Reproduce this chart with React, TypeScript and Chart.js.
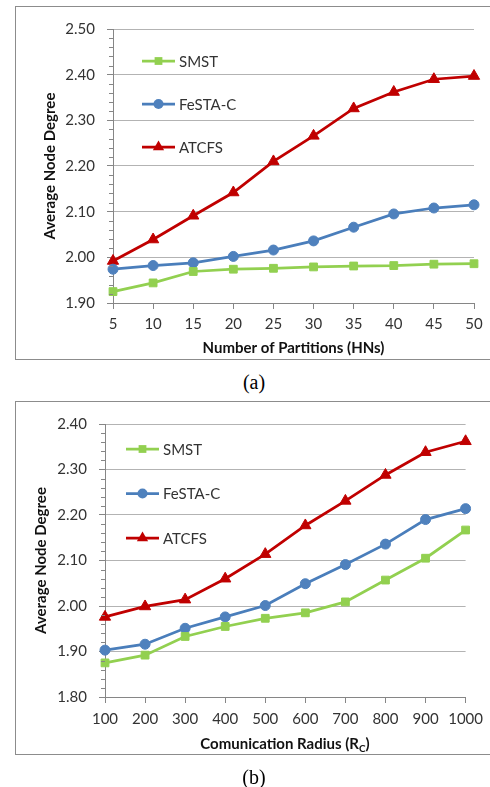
import React, { useEffect, useRef } from "react";
import { Chart, registerables } from "chart.js";

Chart.register(...registerables);

// ---- Chart (a) data ----
const partitions = ["5", "10", "15", "20", "25", "30", "35", "40", "45", "50"];
const smstA = [1.925, 1.944, 1.969, 1.974, 1.976, 1.979, 1.981, 1.982, 1.985, 1.986];
const festaA = [1.974, 1.982, 1.988, 2.002, 2.016, 2.036, 2.066, 2.095, 2.108, 2.115];
const atcfsA = [1.992, 2.039, 2.091, 2.142, 2.21, 2.266, 2.326, 2.362, 2.39, 2.397];

// ---- Chart (b) data ----
const radii = ["100", "200", "300", "400", "500", "600", "700", "800", "900", "1000"];
const smstB = [1.875, 1.892, 1.933, 1.955, 1.973, 1.985, 2.009, 2.057, 2.105, 2.167];
const festaB = [1.903, 1.916, 1.951, 1.976, 2.001, 2.049, 2.091, 2.136, 2.19, 2.214];
const atcfsB = [1.976, 1.999, 2.014, 2.06, 2.114, 2.177, 2.231, 2.288, 2.338, 2.362];

const seriesNames = ["SMST", "FeSTA-C", "ATCFS"];
const yTitle = "Average Node Degree";
const xTitleA = "Number of Partitions (HNs)";
const xTitleB = "Comunication Radius (R";
const xTitleBSub = "C";
const yRangeA = [1.9, 2.5];
const yRangeB = [1.8, 2.4];

const GREEN = "#92D050";
const BLUE = "#4A7EBB";
const RED = "#C00000";
const AXIS = "#868686";
const GRID = "#B3B3B3";
const FONT = "Lato, 'Open Sans', sans-serif";

function drawMarker(ctx: CanvasRenderingContext2D, style: string, x: number, y: number, r: number) {
  ctx.beginPath();
  if (style === "rect") {
    const s = Math.SQRT1_2 * r;
    ctx.rect(x - s, y - s, 2 * s, 2 * s);
  } else if (style === "triangle") {
    let rad = 0;
    ctx.moveTo(x + Math.sin(rad) * r, y - Math.cos(rad) * r);
    rad += (2 * Math.PI) / 3;
    ctx.lineTo(x + Math.sin(rad) * r, y - Math.cos(rad) * r);
    rad += (2 * Math.PI) / 3;
    ctx.lineTo(x + Math.sin(rad) * r, y - Math.cos(rad) * r);
    ctx.closePath();
  } else {
    ctx.arc(x, y, r, 0, Math.PI * 2);
  }
  ctx.fill();
}

const minorTicks = {
  id: "minorTicks",
  afterDraw(chart: any) {
    const y = chart.scales.y;
    const ctx = chart.ctx as CanvasRenderingContext2D;
    const x0 = chart.chartArea.left;
    ctx.save();
    ctx.strokeStyle = AXIS;
    ctx.lineWidth = 1;
    const n = Math.round((y.max - y.min) / 0.02);
    for (let i = 0; i <= n; i++) {
      if (i % 5 === 0) continue;
      const p = Math.round(y.getPixelForValue(y.min + i * 0.02)) + 0.5;
      ctx.beginPath();
      ctx.moveTo(x0 - 4, p);
      ctx.lineTo(x0, p);
      ctx.stroke();
    }
    ctx.restore();
  },
};

const insideLegend = {
  id: "insideLegend",
  afterDraw(chart: any, _args: any, opts: any) {
    const ctx = chart.ctx as CanvasRenderingContext2D;
    const ca = chart.chartArea;
    ctx.save();
    chart.data.datasets.forEach((ds: any, i: number) => {
      const y = ca.top + opts.dy + i * opts.step;
      const x1 = ca.left + opts.dx;
      const x2 = x1 + opts.lineLen;
      ctx.strokeStyle = ds.borderColor;
      ctx.lineWidth = ds.borderWidth;
      ctx.beginPath();
      ctx.moveTo(x1, y);
      ctx.lineTo(x2, y);
      ctx.stroke();
      ctx.fillStyle = ds.pointBackgroundColor;
      drawMarker(ctx, ds.pointStyle, (x1 + x2) / 2, y, ds.pointRadius);
      ctx.fillStyle = "#333";
      ctx.font = `15px ${FONT}`;
      ctx.textBaseline = "middle";
      ctx.textAlign = "left";
      ctx.fillText(ds.label, x2 + opts.textGap, y + 1);
    });
    ctx.restore();
  },
};

function makeDatasets(s: number[], f: number[], a: number[]) {
  const base = { borderWidth: 2.75, pointBorderWidth: 1, tension: 0 };
  return [
    { ...base, label: seriesNames[0], data: s, borderColor: GREEN, backgroundColor: GREEN, pointBackgroundColor: GREEN, pointBorderColor: GREEN, pointStyle: "rect", pointRadius: 5.5 },
    { ...base, label: seriesNames[1], data: f, borderColor: BLUE, backgroundColor: "#4F81BD", pointBackgroundColor: "#4F81BD", pointBorderColor: "#4F81BD", pointStyle: "circle", pointRadius: 5 },
    { ...base, label: seriesNames[2], data: a, borderColor: RED, backgroundColor: RED, pointBackgroundColor: RED, pointBorderColor: RED, pointStyle: "triangle", pointRadius: 6.5 },
  ];
}

function makeConfig(
  labels: string[],
  datasets: any[],
  yRange: number[],
  xTitle: string | null,
  pad: { left: number; right: number; top: number; bottom: number },
  yWidth: number,
  xHeight: number,
  xPad: number,
  legend: any
): any {
  return {
    type: "line",
    data: { labels, datasets },
    plugins: [minorTicks, insideLegend],
    options: {
      animation: false,
      responsive: false,
      devicePixelRatio: 1,
      layout: { padding: pad },
      plugins: {
        legend: { display: false },
        tooltip: { enabled: false },
        insideLegend: legend,
      },
      scales: {
        x: {
          type: "category",
          offset: false,
          grid: { display: true, drawOnChartArea: false, drawTicks: true, tickLength: 6, color: AXIS, tickColor: AXIS },
          border: { display: true, color: AXIS, width: 1 },
          ticks: { font: { family: FONT, size: 15 }, color: "#333", padding: xPad, maxRotation: 0, autoSkip: false },
          title: { display: xTitle !== null, text: xTitle || "", font: { family: FONT, size: 15, weight: "bold" }, color: "#111", padding: 0 },
          afterFit: (s: any) => { s.height = xHeight; },
        },
        y: {
          min: yRange[0],
          max: yRange[1],
          ticks: {
            stepSize: 0.1,
            font: { family: FONT, size: 15 },
            color: "#333",
            padding: 12,
            callback: (v: any) => Number(v).toFixed(2),
          },
          grid: { color: GRID, tickColor: AXIS, tickLength: 6, lineWidth: 1 },
          border: { display: true, color: AXIS, width: 1 },
          title: { display: true, text: yTitle, font: { family: FONT, size: 15, weight: "bold" }, color: "#111", padding: 0 },
          afterFit: (s: any) => { s.width = yWidth; },
        },
      },
    },
  };
}

export default function App() {
  const refA = useRef<HTMLCanvasElement>(null);
  const refB = useRef<HTMLCanvasElement>(null);

  useEffect(() => {
    const a = new Chart(
      refA.current as HTMLCanvasElement,
      makeConfig(
        partitions,
        makeDatasets(smstA, festaA, atcfsA),
        yRangeA,
        xTitleA,
        { left: 41, right: 16, top: 29, bottom: 8 },
        72,
        54,
        6,
        { dx: 29, dy: 32, step: 43, lineLen: 33, textGap: 4 }
      )
    );
    const b = new Chart(
      refB.current as HTMLCanvasElement,
      makeConfig(
        radii,
        makeDatasets(smstB, festaB, atcfsB),
        yRangeB,
        null,
        { left: 32, right: 24, top: 34, bottom: 35 },
        73,
        55,
        7,
        { dx: 21, dy: 25, step: 44.5, lineLen: 33, textGap: 4 }
      )
    );
    return () => {
      a.destroy();
      b.destroy();
    };
  }, []);

  const caption: React.CSSProperties = {
    position: "absolute",
    left: 214,
    width: 80,
    textAlign: "center",
    fontFamily: "'Liberation Serif', 'Times New Roman', serif",
    fontSize: 20,
    lineHeight: "24px",
    color: "#000",
  };

  return (
    <div style={{ position: "fixed", left: 0, top: 0, width: 490, height: 787, overflow: "hidden", background: "#fff" }}>
      <div style={{ position: "absolute", left: 15, top: 6, width: 520, height: 352, border: "1px solid #8c8c8c" }} />
      <canvas ref={refA} width={490} height={365} style={{ position: "absolute", left: 0, top: 0, width: 490, height: 365 }} />
      <div style={{ ...caption, top: 370 }}>(a)</div>
      <div style={{ position: "absolute", left: 15, top: 401, width: 520, height: 352, border: "1px solid #8c8c8c" }} />
      <canvas ref={refB} width={490} height={397} style={{ position: "absolute", left: 0, top: 390, width: 490, height: 397 }} />
      <div
        style={{
          position: "absolute",
          left: 135,
          width: 300,
          top: 733,
          textAlign: "center",
          fontFamily: FONT,
          fontWeight: "bold",
          fontSize: 15,
          lineHeight: "20px",
          color: "#111",
          whiteSpace: "nowrap",
        }}
      >
        {xTitleB}
        <sub style={{ fontSize: 10, verticalAlign: "-3px", lineHeight: 0 }}>{xTitleBSub}</sub>)
      </div>
      <div style={{ ...caption, top: 765 }}>(b)</div>
    </div>
  );
}
